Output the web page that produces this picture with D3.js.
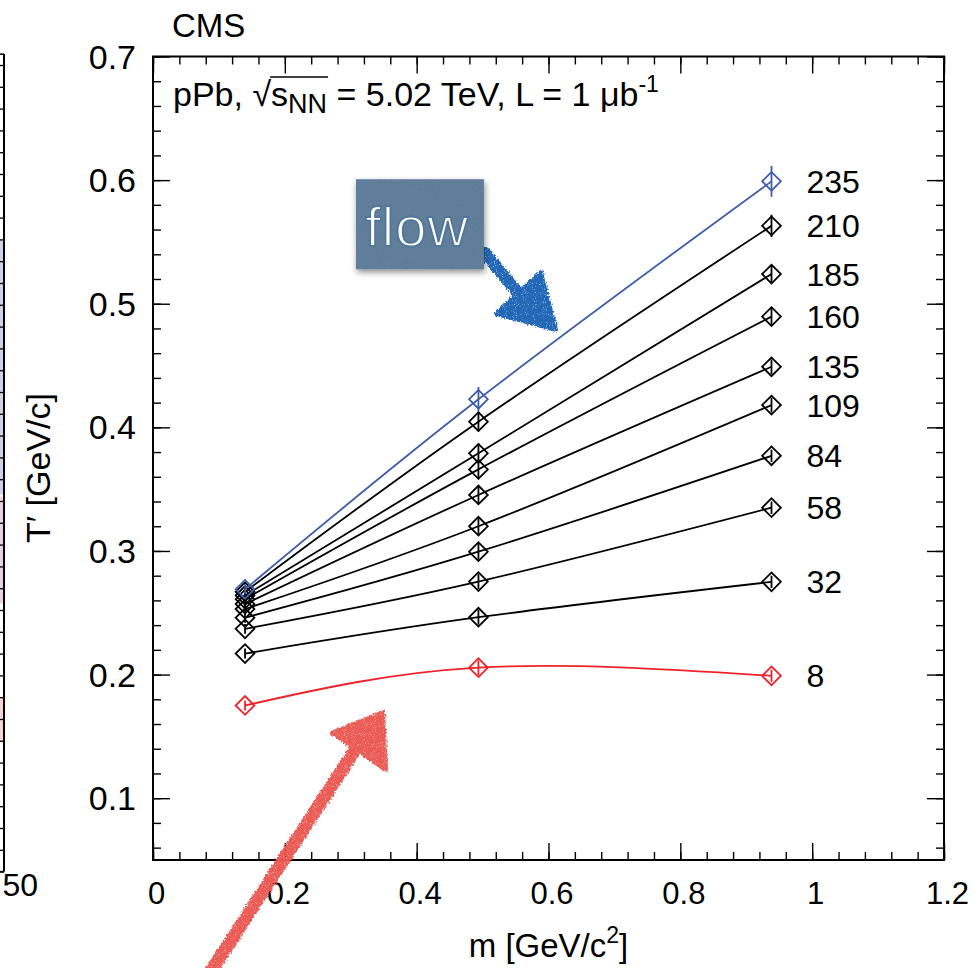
<!DOCTYPE html>
<html>
<head>
<meta charset="utf-8">
<script src="https://cdn.jsdelivr.net/npm/d3@7"></script>
<style>
  html, body { margin: 0; padding: 0; background: #ffffff; }
  svg { display: block; }
  text { font-family: "Liberation Sans", Arial, Helvetica, sans-serif; fill: #000; }
</style>
</head>
<body>
<svg id="chart" width="978" height="968"></svg>
<script>
// ---- data: effective temperature T' vs particle mass, one series per multiplicity class ----
const mass = [0.1396, 0.4937, 0.9383];            // pi, K, p  [GeV/c^2]
const multiplicity = [235, 210, 185, 160, 135, 109, 84, 58, 32, 8];
const tPion   = [0.269, 0.267, 0.264, 0.261, 0.257, 0.253, 0.246, 0.237, 0.217, 0.175];
const tKaon   = [0.4227, 0.4046, 0.379, 0.366, 0.3453, 0.320, 0.2994, 0.2752, 0.2464, 0.2056];
const tProton = [0.599, 0.563, 0.524, 0.4896, 0.449, 0.418, 0.377, 0.335, 0.275, 0.199];
const errPion   = [0.004, 0.004, 0.004, 0.004, 0.004, 0.004, 0.004, 0.004, 0.004, 0.004];
const errKaon   = [0.010, 0.008, 0.008, 0.008, 0.007, 0.007, 0.007, 0.006, 0.006, 0.006];
const errProton = [0.0125, 0.009, 0.007, 0.007, 0.006, 0.006, 0.005, 0.005, 0.005, 0.005];

const xTicks = [0, 0.2, 0.4, 0.6, 0.8, 1, 1.2];
const xTickLabels = ["0", "0.2", "0.4", "0.6", "0.8", "1", "1.2"];
const yTicks = [0.1, 0.2, 0.3, 0.4, 0.5, 0.6, 0.7];
const yTickLabels = ["0.1", "0.2", "0.3", "0.4", "0.5", "0.6", "0.7"];

// neighbouring panel on the left: row grid and shaded row ranges
const sideRows = d3.range(0, 38);
const sideBands = [[8, 19.7], [19.8, 24.7], [29, 31.05]];
const sideBandColors = ["#cfd0ea", "#ead2e4", "#f8d2d5"];

// annotations, in data coordinates (m, T')
const flowBox = [[0.308, 0.6007], [0.502, 0.5279]];
const flowText = [0.322, 0.547];
const blueArrowShaft = [[0.5036, 0.541], [0.5537, 0.5087]];
const blueArrowHead = [[0.5203, 0.4917], [0.5886, 0.5257], [0.6113, 0.4788]];
const redArrowShaft = [[0.0743, -0.051], [0.3064, 0.139]];
const redArrowHead = [[0.2715, 0.1528], [0.349, 0.1697], [0.3535, 0.1228]];

// ---- layout ----
const svg = d3.select("#chart");
const frame = { left: 153, right: 944, top: 56.5, bottom: 860 };
const x = d3.scaleLinear().domain([0, 1.2]).range([frame.left, frame.right]);
const y = d3.scaleLinear().domain([0.05, 0.7]).range([frame.bottom, frame.top]);

const defs = svg.append("defs");
const chalk = defs.append("filter").attr("id", "chalk")
  .attr("x", "-20%").attr("y", "-20%").attr("width", "140%").attr("height", "140%");
chalk.append("feTurbulence").attr("type", "fractalNoise").attr("baseFrequency", 0.55)
  .attr("numOctaves", 3).attr("seed", 4).attr("result", "noise");
chalk.append("feDisplacementMap").attr("in", "SourceGraphic").attr("in2", "noise")
  .attr("scale", 5).attr("xChannelSelector", "R").attr("yChannelSelector", "G").attr("result", "rough");
chalk.append("feTurbulence").attr("type", "fractalNoise").attr("baseFrequency", 1.1)
  .attr("numOctaves", 1).attr("seed", 9).attr("result", "fine");
chalk.append("feColorMatrix").attr("in", "fine").attr("type", "matrix")
  .attr("values", "0 0 0 0 0  0 0 0 0 0  0 0 0 0 0  0 0 0 -3.2 2.9").attr("result", "speck");
chalk.append("feComposite").attr("in", "rough").attr("in2", "speck").attr("operator", "in");

const shadow = defs.append("filter").attr("id", "shadow")
  .attr("x", "-20%").attr("y", "-20%").attr("width", "140%").attr("height", "150%");
shadow.append("feDropShadow").attr("dx", 1).attr("dy", 3).attr("stdDeviation", 3)
  .attr("flood-color", "#000").attr("flood-opacity", 0.45);

const grain = defs.append("filter").attr("id", "grain");
grain.append("feTurbulence").attr("type", "fractalNoise").attr("baseFrequency", 0.9)
  .attr("numOctaves", 2).attr("seed", 2).attr("result", "n");
grain.append("feColorMatrix").attr("in", "n").attr("type", "matrix")
  .attr("values", "0.33 0.33 0.33 0 0  0.33 0.33 0.33 0 0  0.33 0.33 0.33 0 0  0 0 0 0 0.16").attr("result", "g");
grain.append("feComposite").attr("in", "g").attr("in2", "SourceAlpha").attr("operator", "in");

// ---- neighbouring panel edge ----
const yL = d3.scaleLinear().domain([-0.5, 37]).range([54.1, 871.6]);
const side = svg.append("g");
side.selectAll("rect.band").data(sideBands).join("rect")
  .attr("class", "band")
  .attr("x", 0).attr("width", 4)
  .attr("y", d => yL(d[0])).attr("height", d => yL(d[1]) - yL(d[0]))
  .attr("fill", (d, i) => sideBandColors[i]);
side.append("g").attr("transform", "translate(4,0)")
  .call(d3.axisRight(yL).tickValues(sideRows).tickSize(-8).tickFormat(""))
  .call(g => g.select(".domain").remove())
  .call(g => g.selectAll("line").attr("stroke", "#000").attr("stroke-width", 1.3));
side.append("line").attr("x1", 4).attr("x2", 4).attr("y1", yL(-0.5)).attr("y2", yL(37))
  .attr("stroke", "#000").attr("stroke-width", 2);
side.append("line").attr("x1", 0).attr("x2", 4).attr("y1", yL(-0.5)).attr("y2", yL(-0.5))
  .attr("stroke", "#000").attr("stroke-width", 1.5);
side.append("line").attr("x1", 0).attr("x2", 4).attr("y1", yL(37)).attr("y2", yL(37))
  .attr("stroke", "#000").attr("stroke-width", 1.5);
side.append("text").attr("x", 38).attr("y", 896).attr("text-anchor", "end")
  .attr("font-size", 32).text("50");

// ---- axes ----
const tickStyle = g => g.selectAll("line").attr("stroke", "#000").attr("stroke-width", 1.4);
const noDomain = g => g.select(".domain").remove();
const xMinor = d3.range(0, 1.2001, 0.04);
const yMinor = d3.range(0.06, 0.7001, 0.02);

const axes = svg.append("g");
// bottom
axes.append("g").attr("transform", `translate(0,${frame.bottom})`)
  .call(d3.axisBottom(x).tickValues(xMinor).tickSize(-8).tickFormat(""))
  .call(noDomain).call(tickStyle);
axes.append("g").attr("transform", `translate(0,${frame.bottom})`)
  .call(d3.axisBottom(x).tickValues(xTicks).tickSize(-17).tickPadding(22)
    .tickFormat((d, i) => xTickLabels[i]))
  .call(noDomain).call(tickStyle)
  .call(g => g.selectAll("text").attr("font-size", 31).attr("dx", 3)
    .attr("font-family", "Liberation Sans, Arial, sans-serif").attr("fill", "#000"));
// top
axes.append("g").attr("transform", `translate(0,${frame.top})`)
  .call(d3.axisTop(x).tickValues(xMinor).tickSize(-8).tickFormat(""))
  .call(noDomain).call(tickStyle);
axes.append("g").attr("transform", `translate(0,${frame.top})`)
  .call(d3.axisTop(x).tickValues(xTicks).tickSize(-17).tickFormat(""))
  .call(noDomain).call(tickStyle);
// left
axes.append("g").attr("transform", `translate(${frame.left},0)`)
  .call(d3.axisLeft(y).tickValues(yMinor).tickSize(-8).tickFormat(""))
  .call(noDomain).call(tickStyle);
axes.append("g").attr("transform", `translate(${frame.left},0)`)
  .call(d3.axisLeft(y).tickValues(yTicks).tickSize(-17).tickPadding(17)
    .tickFormat((d, i) => yTickLabels[i]))
  .call(noDomain).call(tickStyle)
  .call(g => g.selectAll("text").attr("font-size", 34).attr("dy", "0.34em")
    .attr("font-family", "Liberation Sans, Arial, sans-serif").attr("fill", "#000"));
// right
axes.append("g").attr("transform", `translate(${frame.right},0)`)
  .call(d3.axisRight(y).tickValues(yMinor).tickSize(-8).tickFormat(""))
  .call(noDomain).call(tickStyle);
axes.append("g").attr("transform", `translate(${frame.right},0)`)
  .call(d3.axisRight(y).tickValues(yTicks).tickSize(-17).tickFormat(""))
  .call(noDomain).call(tickStyle);

svg.append("rect")
  .attr("x", frame.left).attr("y", frame.top)
  .attr("width", frame.right - frame.left).attr("height", frame.bottom - frame.top)
  .attr("fill", "none").attr("stroke", "#000").attr("stroke-width", 2);

// ---- series ----
const seriesColor = (i) => i === 0 ? "#3f5daa" : (i === multiplicity.length - 1 ? "#ee2229" : "#000000");
const series = multiplicity.map((n, i) => ({
  n, i,
  pts: [
    { m: mass[0], t: tPion[i], e: errPion[i] },
    { m: mass[1], t: tKaon[i], e: errKaon[i] },
    { m: mass[2], t: tProton[i], e: errProton[i] }
  ]
}));

const line = d3.line().x(d => x(d.m)).y(d => y(d.t)).curve(d3.curveNatural);
const marks = svg.append("g");
// draw the black classes first, then the two highlighted ones on top
const order = series.slice(1, -1).concat([series[series.length - 1], series[0]]);
const diamond = d3.symbol(d3.symbolSquare, 175);

order.forEach(s => {
  const col = seriesColor(s.i);
  const g = marks.append("g");
  g.append("path").attr("d", line(s.pts))
    .attr("fill", "none").attr("stroke", col).attr("stroke-width", 1.8);
  g.selectAll("line.err").data(s.pts).join("line").attr("class", "err")
    .attr("x1", d => x(d.m)).attr("x2", d => x(d.m))
    .attr("y1", d => y(d.t + d.e)).attr("y2", d => y(d.t - d.e))
    .attr("stroke", col).attr("stroke-width", 1.8);
  g.selectAll("path.mk").data(s.pts).join("path").attr("class", "mk")
    .attr("d", diamond)
    .attr("transform", d => `translate(${x(d.m)},${y(d.t)}) rotate(45)`)
    .attr("fill", "none").attr("stroke", col).attr("stroke-width", 1.8);
});

// multiplicity labels next to the proton points
svg.append("g").selectAll("text").data(series).join("text")
  .attr("x", x(mass[2]) + 35)
  .attr("y", d => y(tProton[d.i]))
  .attr("dy", "0.36em")
  .attr("font-size", 32)
  .text(d => d.n);

// ---- titles ----
svg.append("text").attr("x", 172).attr("y", 37).attr("font-size", 33).text("CMS");

// energy / luminosity line, laid out piece by piece
(function () {
  const pieces = [
    { t: "pPb, ", s: 34, dy: 0 },
    { t: "\u221A", s: 34, dy: 0 },
    { t: "s", s: 34, dy: 0, over: true },
    { t: "NN", s: 27, dy: 7, over: true },
    { t: " = 5.02 TeV, L = 1 \u03BCb", s: 34, dy: 0 },
    { t: "-1", s: 23, dy: -14 }
  ];
  const g = svg.append("g");
  let cx = 173, ox0 = null, ox1 = null;
  const base = 106;
  pieces.forEach(p => {
    const t = g.append("text").attr("x", cx).attr("y", base + p.dy)
      .attr("font-size", p.s).attr("xml:space", "preserve").text(p.t);
    const w = t.node().getComputedTextLength();
    if (p.over) { if (ox0 === null) ox0 = cx; ox1 = cx + w; }
    cx += w;
  });
  g.append("line").attr("x1", ox0 - 1).attr("x2", ox1 + 1)
    .attr("y1", base - 29).attr("y2", base - 29)
    .attr("stroke", "#000").attr("stroke-width", 1.5);
})();

// axis titles
const xt = svg.append("text").attr("x", (frame.left + frame.right) / 2).attr("y", 957)
  .attr("text-anchor", "middle").attr("font-size", 33);
xt.append("tspan").text("m [GeV/c");
xt.append("tspan").attr("font-size", 23).attr("dy", -14).text("2");
xt.append("tspan").attr("dy", 14).text("]");

svg.append("text")
  .attr("transform", `translate(50,468) rotate(-90)`)
  .attr("text-anchor", "middle").attr("font-size", 34)
  .text("T\u2032 [GeV/c]");

// ---- annotations ----
const P = d => [x(d[0]), y(d[1])];
const ann = svg.append("g");

// blue arrow from the "flow" tag
ann.append("g").attr("filter", "url(#chalk)")
  .call(g => {
    g.append("line")
      .attr("x1", P(blueArrowShaft[0])[0]).attr("y1", P(blueArrowShaft[0])[1])
      .attr("x2", P(blueArrowShaft[1])[0]).attr("y2", P(blueArrowShaft[1])[1])
      .attr("stroke", "#2367b6").attr("stroke-width", 12).attr("stroke-linecap", "round");
    g.append("polygon").attr("points", blueArrowHead.map(P).map(p => p.join(",")).join(" "))
      .attr("fill", "#2367b6").attr("stroke", "#2367b6").attr("stroke-width", 4)
      .attr("stroke-linejoin", "round");
  });

// "flow" tag
const b0 = P(flowBox[0]), b1 = P(flowBox[1]);
ann.append("rect").attr("x", b0[0]).attr("y", b0[1])
  .attr("width", b1[0] - b0[0]).attr("height", b1[1] - b0[1])
  .attr("fill", "#4f7394").attr("filter", "url(#shadow)");
ann.append("rect").attr("x", b0[0]).attr("y", b0[1])
  .attr("width", b1[0] - b0[0]).attr("height", b1[1] - b0[1])
  .attr("fill", "#000").attr("filter", "url(#grain)");
// light lettering: the outline in the tag colour trims the glyph edges
ann.append("text").attr("x", P(flowText)[0]).attr("y", P(flowText)[1])
  .attr("font-family", "'Open Sans', 'Noto Sans', sans-serif")
  .attr("font-weight", 300)
  .attr("font-size", 56)
  .attr("letter-spacing", 1)
  .style("fill", "#ffffff")
  .style("stroke", "#52769a").style("stroke-width", 1.8)
  .style("paint-order", "fill")
  .text("flow");

// red arrow from below
ann.append("g").attr("filter", "url(#chalk)")
  .call(g => {
    g.append("line")
      .attr("x1", P(redArrowShaft[0])[0]).attr("y1", P(redArrowShaft[0])[1])
      .attr("x2", P(redArrowShaft[1])[0]).attr("y2", P(redArrowShaft[1])[1])
      .attr("stroke", "#ec5b56").attr("stroke-width", 13).attr("stroke-linecap", "round");
    g.append("polygon").attr("points", redArrowHead.map(P).map(p => p.join(",")).join(" "))
      .attr("fill", "#ec5b56").attr("stroke", "#ec5b56").attr("stroke-width", 4)
      .attr("stroke-linejoin", "round");
  });
</script>
</body>
</html>
